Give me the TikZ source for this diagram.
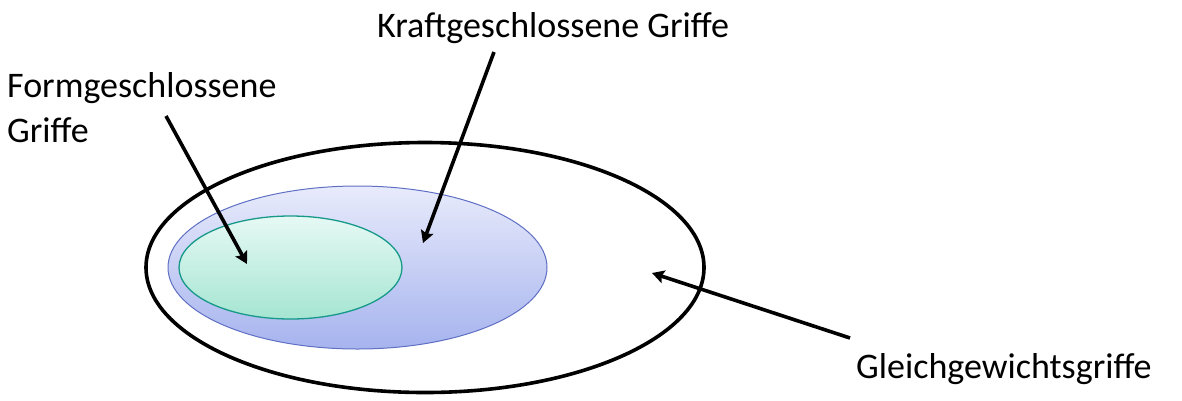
\documentclass[tikz,border=0pt]{standalone}
\usepackage{fontspec}
\setmainfont{Carlito}
\usetikzlibrary{shapes.geometric,arrows.meta}
\definecolor{blueTop}{HTML}{E8EBFB}
\definecolor{blueBot}{HTML}{A6B3EE}
\definecolor{blueLine}{HTML}{5F6FC4}
\definecolor{greenTop}{HTML}{E6F9F4}
\definecolor{greenBot}{HTML}{A5E5D2}
\definecolor{greenLine}{HTML}{17998A}
\tikzset{
  lbl/.style={font=\fontsize{36}{45}\selectfont, inner sep=0pt, align=left},
  ptr/.style={line width=3.6pt, -{Stealth[length=12pt,width=13pt,inset=2pt]}},
  ell/.style={ellipse, inner sep=0pt},
}
\begin{document}
\begin{tikzpicture}[x=1pt,y=-1pt]
\useasboundingbox (0,0) rectangle (1182,400);
% outer ellipse
\node[ell, draw=black, line width=3.6pt, minimum width=558pt, minimum height=250pt] (outer) at (425,267.5) {};
% blue ellipse
\node[ell, draw=blueLine, line width=1pt, top color=blueTop, bottom color=blueBot, minimum width=379pt, minimum height=163pt] (kraft) at (357.5,267.5) {};
% green ellipse
\node[ell, draw=greenLine, line width=1.3pt, top color=greenTop, bottom color=greenBot, minimum width=223pt, minimum height=103pt] (form) at (290.5,267.5) {};
% labels
\node[lbl, anchor=base west] (tform) at (7,142) {Formgeschlossene\\Griffe};
\node[lbl, anchor=base west] (tkraft) at (377,37) {Kraftgeschlossene Griffe};
\node[lbl, anchor=base west] (tgleich) at (856,378) {Gleichgewichtsgriffe};
% arrow points
\coordinate (fs) at (166,116);
\coordinate (fe) at (247,264);
\coordinate (ks) at (494,52);
\coordinate (ke) at (423,243);
\coordinate (gs) at (850,338);
\coordinate (ge) at (652,273);
\draw[ptr] (fs) -- (fe);
\draw[ptr] (ks) -- (ke);
\draw[ptr] (gs) -- (ge);
\end{tikzpicture}
\end{document}
